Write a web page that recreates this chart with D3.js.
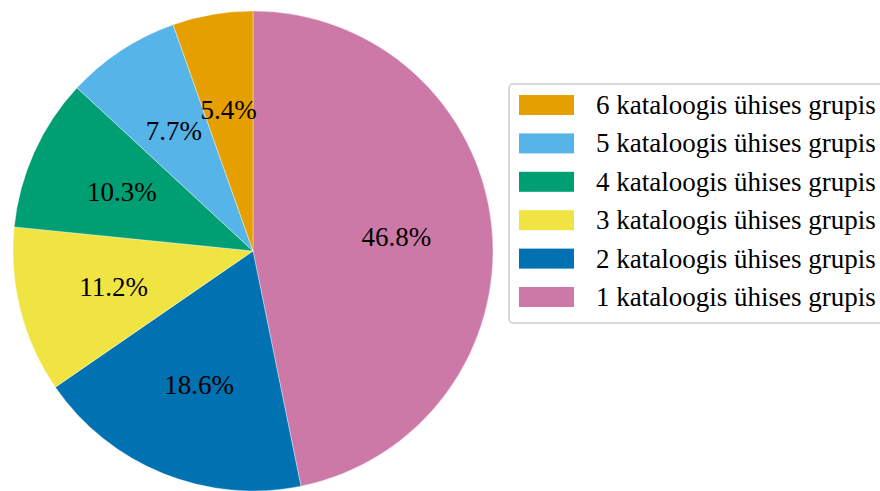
<!DOCTYPE html>
<html>
<head>
<meta charset="utf-8">
<script src="https://cdn.jsdelivr.net/npm/d3@7"></script>
<style>
  html, body { margin: 0; padding: 0; background: #fff; }
  svg { display: block; }
</style>
</head>
<body>
<div id="chart"></div>
<script>
const width = 880;
const height = 491;
const CX = 253;
const CY = 251;
const RADIUS = 240;
const FONT_SIZE = 27;
const FONT = 'Liberation Serif';

// data, in pie order (clockwise from 12 o'clock)
const categories = [
  '1 kataloogis ühises grupis',
  '2 kataloogis ühises grupis',
  '3 kataloogis ühises grupis',
  '4 kataloogis ühises grupis',
  '5 kataloogis ühises grupis',
  '6 kataloogis ühises grupis'
];
const shares = [46.8, 18.6, 11.2, 10.3, 7.7, 5.4];
const colors = ['#CC79A7', '#0072B2', '#F0E442', '#009E73', '#56B4E9', '#E69F00'];

const color = d3.scaleOrdinal(categories, colors);

const svg = d3.select('#chart')
  .append('svg')
  .attr('width', width)
  .attr('height', height);

const rows = categories.map((c, i) => ({ name: c, value: shares[i] }));

const pie = d3.pie()
  .sort(null)
  .value((d) => d.value);

const arc = d3.arc()
  .innerRadius(0)
  .outerRadius(RADIUS);

const labelArc = d3.arc()
  .innerRadius(RADIUS * 0.6)
  .outerRadius(RADIUS * 0.6);

const g = svg.append('g')
  .attr('transform', `translate(${CX}, ${CY})`);

const slice = g.selectAll('g.slice')
  .data(pie(rows))
  .enter().append('g')
    .attr('class', 'slice');

slice.append('path')
  .attr('d', arc)
  .attr('fill', (d) => color(d.data.name))
  .attr('stroke', 'rgba(255,255,255,0.6)')
  .attr('stroke-width', 0.6);

slice.append('text')
  .attr('transform', (d) => `translate(${labelArc.centroid(d)})`)
  .attr('text-anchor', 'middle')
  .attr('dy', '0.35em')
  .style('font-family', FONT)
  .attr('font-size', FONT_SIZE)
  .attr('fill', '#000')
  .text((d) => d.data.value.toFixed(1) + '%');

// legend, listed in reverse (6 down to 1)
const LEGEND_X = 509;
const LEGEND_Y = 84;
const LEGEND_W = 380;
const LEGEND_H = 239;
const PATCH_X = 10;
const PATCH_W = 55;
const PATCH_H = 20;
const FIRST_ROW = 21;
const ROW_STEP = 38.4;
const TEXT_X = 87;

const legend = svg.append('g')
  .attr('transform', `translate(${LEGEND_X}, ${LEGEND_Y})`);

legend.append('rect')
  .attr('x', 0)
  .attr('y', 0)
  .attr('width', LEGEND_W)
  .attr('height', LEGEND_H)
  .attr('rx', 4)
  .attr('fill', '#fff')
  .attr('fill-opacity', 0.8)
  .attr('stroke', '#cccccc')
  .attr('stroke-width', 1.5);

const legendItem = legend.selectAll('g.item')
  .data(categories.slice().reverse())
  .enter().append('g')
    .attr('class', 'item')
    .attr('transform', (d, i) => `translate(0, ${FIRST_ROW + i * ROW_STEP})`);

legendItem.append('rect')
  .attr('x', PATCH_X)
  .attr('y', -PATCH_H / 2)
  .attr('width', PATCH_W)
  .attr('height', PATCH_H)
  .attr('fill', (d) => color(d));

legendItem.append('text')
  .attr('x', TEXT_X)
  .attr('dy', '0.33em')
  .style('font-family', FONT)
  .attr('font-size', FONT_SIZE)
  .attr('fill', '#000')
  .text((d) => d);
</script>
</body>
</html>
